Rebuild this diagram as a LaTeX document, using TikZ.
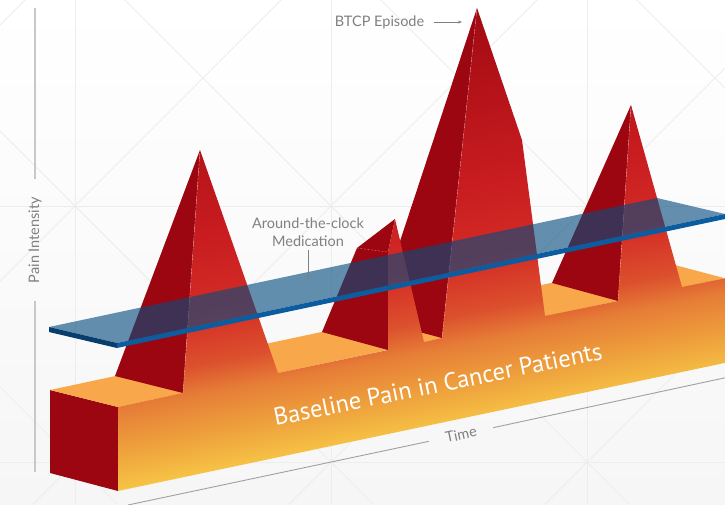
\documentclass[tikz,border=0pt]{standalone}
\usepackage{fontspec}
\setmainfont{Lato}
\newfontfamily\bannerfont{PT Sans}
\usetikzlibrary{arrows.meta}

\definecolor{bgbot}{RGB}{246,246,246}
\definecolor{gridgray}{RGB}{237,237,237}
\definecolor{axisgray}{RGB}{200,200,200}
\definecolor{timegray}{RGB}{160,160,160}
\definecolor{labelgray}{RGB}{128,128,128}
\definecolor{spikedark}{RGB}{155,6,16}
\definecolor{boxtop}{RGB}{248,168,74}
\definecolor{planeblue}{RGB}{6,76,127}
\definecolor{planeedge}{RGB}{12,93,160}
\definecolor{planeend}{RGB}{8,62,110}
\definecolor{heatA}{RGB}{160,10,18}
\definecolor{heatB}{RGB}{200,28,32}
\definecolor{heatC}{RGB}{212,45,38}
\definecolor{heatD}{RGB}{220,80,45}
\definecolor{heatE}{RGB}{230,125,55}
\definecolor{heatF}{RGB}{238,160,60}
\definecolor{heatG}{RGB}{247,200,70}

% dark red at the peaks, yellow at the foot of the block
\pgfdeclareverticalshading{frontheat}{100bp}{color(0bp)=(heatG); color(40.6bp)=(heatG);
  color(42.8bp)=(heatF); color(44.8bp)=(heatE); color(46.25bp)=(heatD);
  color(48.7bp)=(heatC); color(52.6bp)=(heatB); color(61.5bp)=(heatA); color(100bp)=(heatA)}

\tikzset{
  gridline/.style={gridgray, line width=0.8pt},
  axisline/.style={axisgray, line width=1.3pt},
  timeline/.style={timegray, line width=0.9pt},
  lbl/.style={text=labelgray, font=\fontsize{14.5}{18}\selectfont},
  pointer/.style={labelgray, line width=0.7pt, -{Stealth[length=4pt,width=3pt]}},
  darkface/.style={fill=spikedark},
  ridge/.style={white, opacity=0.35, line width=0.6pt, dash pattern=on 2pt off 1.5pt},
}

\begin{document}
\begin{tikzpicture}[x=1pt,y=-1pt]
  \useasboundingbox (0,0) rectangle (725,505);
  \shade[top color=white, bottom color=bgbot] (0,0) rectangle (725,505);
  \begin{scope}
    \clip (0,0) rectangle (725,505);
    \foreach \gx in {75,331,587} \draw[gridline] (\gx,0) -- (\gx,505);
    \foreach \gy in {206,462} \draw[gridline] (0,\gy) -- (725,\gy);
    \foreach \c in {-387,-131,125,381,637} \draw[gridline] (\c,0) -- (\c+600,600);
    \foreach \c in {25,281,537,793,1049} \draw[gridline] (\c,0) -- (\c-600,600);
  \end{scope}

  % axes
  \coordinate (ytop) at (35,8);
  \coordinate (ybot) at (35,472);
  \node[lbl, rotate=90, inner xsep=18pt] (pain) at (35,240) {Pain Intensity};
  \draw[axisline] (ytop) -- (pain.east);
  \draw[axisline] (pain.west) -- (ybot);
  \coordinate (t0) at (128,505);
  \coordinate (t1) at (725,377.8);
  \node[lbl, rotate=12, inner xsep=17pt] (time) at (461,434.5) {Time};
  \draw[timeline] (t0) -- (time.west);
  \draw[timeline] (time.east) -- (t1);

  % the block
  \coordinate (bl0) at (50,390);
  \coordinate (fl0) at (118,407);
  \coordinate (fb0) at (118,491);
  \coordinate (bb0) at (50,473);
  \coordinate (fr0) at (725,278.3);
  \coordinate (br0) at (657,260.3);
  \coordinate (frb) at (725,362.9);
  % spikes
  \coordinate (a1) at (200,150);
  \coordinate (s1l) at (183,393);
  \coordinate (s1b) at (115,376);
  \coordinate (s1r) at (278,373);
  \coordinate (a2) at (395,219);
  \coordinate (s2b) at (322,332);
  \coordinate (s2k) at (357,248);
  \coordinate (s2m) at (388,252);
  \coordinate (s2l) at (388,350);
  \coordinate (s2r) at (424,342);
  \coordinate (a3) at (477,8);
  \coordinate (s3b) at (374,320);
  \coordinate (s3l) at (442,338);
  \coordinate (s3k) at (522,140);
  \coordinate (s3r) at (545,316);
  \coordinate (a4) at (631,105);
  \coordinate (s4b) at (552,283);
  \coordinate (s4l) at (618,301);
  \coordinate (s4r) at (682,287);

  \fill[darkface] (bl0) -- (fl0) -- (fb0) -- (bb0) -- cycle;
  \fill[boxtop] (bl0) -- (fl0) -- (fr0) -- (br0) -- cycle;

  \fill[darkface] (a1) -- (s1b) -- (s1l) -- cycle;
  \fill[darkface] (a3) -- (s3b) -- (s3l) -- cycle;
  \fill[darkface] (s2b) -- (s2k) -- (a2) -- (s2m) -- (s2l) -- cycle;
  \fill[darkface] (a4) -- (s4b) -- (s4l) -- cycle;

  \begin{scope}
    \clip (fb0) -- (fl0) -- (s1l) -- (a1) -- (s1r) -- (s2l) -- (s2m) -- (a2) -- (s2r)
      -- (s3l) -- (a3) -- (s3k) -- (s3r) -- (s4l) -- (a4) -- (s4r) -- (fr0) -- (frb) -- cycle;
    \shade[shading=frontheat, shading angle=10.8] (-100,-250) rectangle (900,750);
  \end{scope}

  \draw[ridge] (a1) -- (s1l);
  \draw[ridge] (a3) -- (s3l);
  \draw[ridge] (a4) -- (s4l);
  \draw[ridge] (s2k) -- (s2m);

  % medication plane
  \coordinate (pbl) at (49,327);
  \coordinate (pfl) at (117,343);
  \coordinate (pfr) at (725,214);
  \coordinate (pbr) at (657,198);
  \coordinate (pblb) at (49,332);
  \coordinate (pflb) at (117,348);
  \coordinate (pfrb) at (725,219);
  \fill[planeblue, opacity=0.62] (pbl) -- (pfl) -- (pfr) -- (pbr) -- cycle;
  \fill[planeend] (pbl) -- (pfl) -- (pflb) -- (pblb) -- cycle;
  \fill[planeedge] (pfl) -- (pfr) -- (pfrb) -- (pflb) -- cycle;

  \node[text=white, font=\bannerfont\fontsize{24.5}{28}\selectfont, rotate=11.5, anchor=base]
    (baseline) at (439.5,392.5) {Baseline Pain in Cancer Patients};

  % callouts
  \node[lbl] (btcp) at (379.5,22) {BTCP Episode};
  \coordinate (btcptip) at (462,22);
  \draw[pointer, shorten <=6pt] (btcp.east) -- (btcptip);
  \node[lbl, align=center] (med) at (308,232) {Around-the-clock\\Medication};
  \coordinate (medtip) at (308,280);
  \draw[pointer] (med.south) -- (medtip);
\end{tikzpicture}
\end{document}
